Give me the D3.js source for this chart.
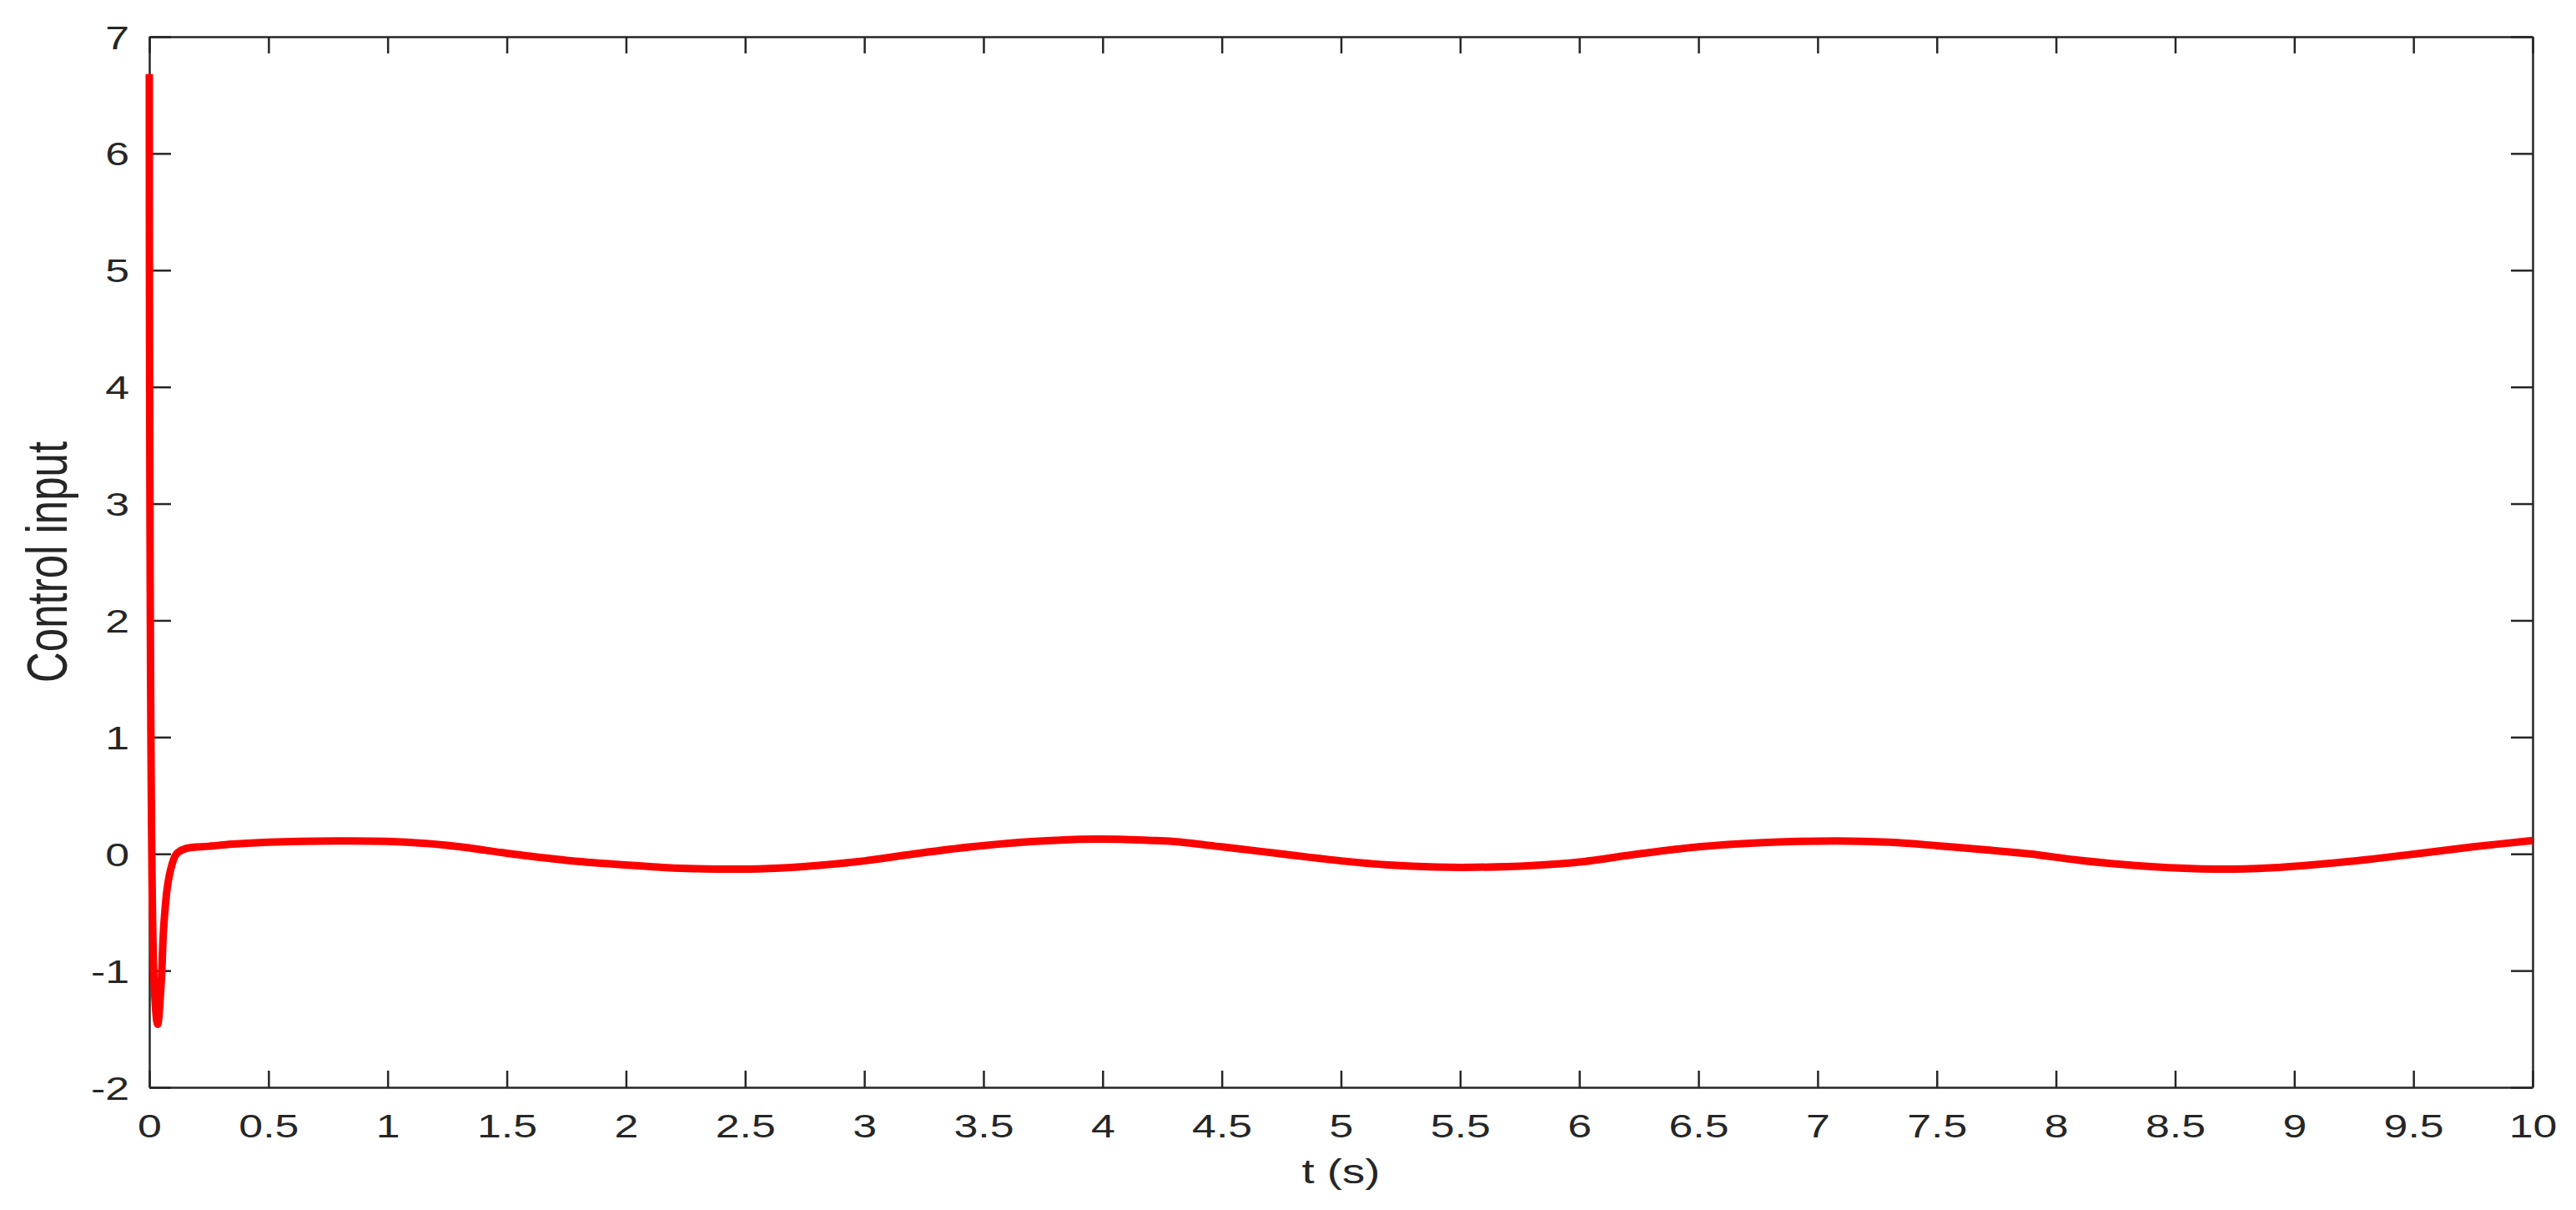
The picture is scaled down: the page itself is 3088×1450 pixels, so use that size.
<!DOCTYPE html>
<html lang="en">
    <head>
        <meta charset="utf-8">
        <title>Control input</title>
        <script type="text/javascript" src="https://cdn.jsdelivr.net/npm/d3@7"></script>
        <style type="text/css">
            body { margin: 0; background: #fff; }
            text { font-family: "Liberation Sans", Arial, sans-serif; fill: #262626; }
        </style>
    </head>
    <body>
        <script type="text/javascript">

            //Width and height
            var w = 3088;
            var h = 1450;

            //Data
            var tValues = [0, 0.02, 0.035, 0.05, 0.06, 0.076, 0.094, 0.114, 0.155, 0.25, 0.35, 0.5, 0.78,
                           1.0, 1.25, 1.52, 1.75, 2.0, 2.2, 2.38, 2.6, 2.8, 3.0, 3.21, 3.45, 3.7, 3.98,
                           4.2, 4.3, 4.5, 4.75, 5.0, 5.2, 5.4, 5.56, 5.8, 6.0, 6.25, 6.5, 6.75, 7.08,
                           7.3, 7.5, 7.7, 7.89, 8.1, 8.4, 8.67, 8.9, 9.1, 9.3, 9.51, 9.75, 10];
            var uValues = [6.68, -1.1, -1.46, -1.1, -0.64, -0.28, -0.10, 0.0, 0.047, 0.065, 0.083, 0.1, 0.111,
                           0.107, 0.073, 0.0, -0.055, -0.095, -0.122, -0.131, -0.125, -0.1, -0.06, 0.0, 0.06, 0.105, 0.126,
                           0.115, 0.105, 0.06, 0.0, -0.06, -0.095, -0.113, -0.115, -0.1, -0.07, 0.0, 0.06, 0.095, 0.111,
                           0.1, 0.07, 0.035, 0.0, -0.055, -0.11, -0.131, -0.12, -0.09, -0.05, 0.0, 0.06, 0.114];

            var xTicks = [0, 0.5, 1, 1.5, 2, 2.5, 3, 3.5, 4, 4.5, 5, 5.5, 6, 6.5, 7, 7.5, 8, 8.5, 9, 9.5, 10];
            var yTicks = [-2, -1, 0, 1, 2, 3, 4, 5, 6, 7];

            var plotLeft = 179, plotRight = 3036, plotTop = 44, plotBottom = 1303;
            var stretch = 1.33;

            var x = d3.scaleLinear().domain([0, 10]).range([plotLeft, plotRight]);
            var y = d3.scaleLinear().domain([-2, 7]).range([plotBottom, plotTop]);

            var svg = d3.select("body")
                        .append("svg")
                        .attr("width", w)
                        .attr("height", h);

            //Axes, ticks pointing inward, box all round
            var axisColor = "#262626";

            var gx = svg.append("g")
                .attr("transform", "translate(0," + plotBottom + ")")
                .call(d3.axisBottom(x).tickValues(xTicks).tickSizeInner(-20).tickSizeOuter(0)
                    .tickPadding(32).tickFormat(function(d) { return d; }));
            gx.selectAll("text")
                .attr("font-size", "39px")
                .attr("transform", "scale(" + stretch + ",1)");

            var gy = svg.append("g")
                .attr("transform", "translate(" + plotLeft + ",0)")
                .call(d3.axisLeft(y).tickValues(yTicks).tickSizeInner(-26).tickSizeOuter(0)
                    .tickFormat(function(d) { return d; }));
            gy.selectAll("text")
                .attr("font-size", "39px")
                .attr("x", -24 / stretch)
                .attr("dy", "0.36em")
                .attr("transform", "scale(" + stretch + ",1)");

            svg.append("g")
                .attr("transform", "translate(0," + plotTop + ")")
                .call(d3.axisTop(x).tickValues(xTicks).tickSizeInner(-20).tickSizeOuter(0).tickFormat(""));

            svg.append("g")
                .attr("transform", "translate(" + plotRight + ",0)")
                .call(d3.axisRight(y).tickValues(yTicks).tickSizeInner(-26).tickSizeOuter(0).tickFormat(""));

            svg.selectAll(".domain, .tick line")
                .attr("stroke", axisColor)
                .attr("stroke-width", 2.5);
            svg.selectAll(".tick text").attr("fill", axisColor);

            //The curve
            var points = tValues.map(function(t, i) { return [t, uValues[i]]; });
            var line = d3.line()
                .x(function(d) { return x(d[0]); })
                .y(function(d) { return y(d[1]); })
                .curve(d3.curveCatmullRom.alpha(0.5));

            svg.append("path")
                .datum(points)
                .attr("d", line)
                .attr("fill", "none")
                .attr("stroke", "#ff0000")
                .attr("stroke-width", 9)
                .attr("stroke-linejoin", "round");

            //Labels
            svg.append("text")
                .text("t (s)")
                .attr("font-size", "41px")
                .attr("text-anchor", "middle")
                .attr("transform", "translate(" + (plotLeft + plotRight) / 2 + ",1418) scale(" + stretch + ",1)");

            svg.append("text")
                .text("Control input")
                .attr("font-size", "51px")
                .attr("text-anchor", "middle")
                .attr("transform", "translate(80," + (plotTop + plotBottom) / 2 + ") rotate(-90) scale(1," + stretch + ")");

        </script>
    </body>
</html>
